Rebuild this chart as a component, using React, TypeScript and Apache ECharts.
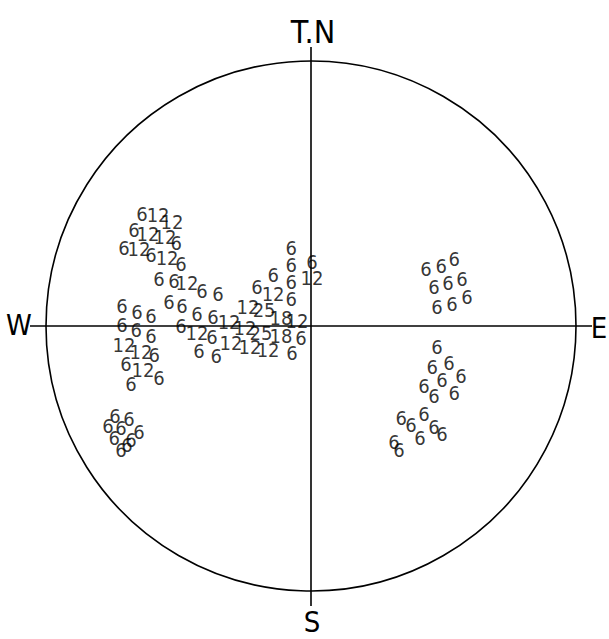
import React, { useEffect, useRef } from "react";
import * as echarts from "echarts";

// Pole counts on the net: [x, y, count], net radius = 100 (x to East, y to True North)
const upperLeftPoles: number[][] = [
  [-63.8, 42.3, 6], [-57.7, 41.9, 12], [-52.5, 39.2, 12],
  [-66.8, 36.2, 6], [-61.5, 34.7, 12], [-55.1, 33.6, 12], [-50.9, 31.3, 6],
  [-70.6, 29.4, 6], [-64.9, 29.1, 12], [-60.4, 26.8, 6], [-54.3, 25.7, 12], [-49.1, 23.4, 6],
  [-57.4, 17.7, 6], [-51.7, 17.0, 6], [-46.8, 16.2, 12], [-41.1, 13.2, 6], [-35.1, 12.1, 6],
];

const centralPoles: number[][] = [
  [-53.6, 9.1, 6], [-48.7, 7.5, 6], [-43.0, 4.5, 6], [-37.0, 3.4, 6],
  [-23.8, 7.2, 12], [-17.7, 6.0, 25], [-11.3, 3.0, 18], [-5.3, 1.9, 12],
  [-49.1, 0.0, 6], [-43.0, -2.6, 12], [-37.4, -4.2, 6],
  [-30.9, 1.5, 12], [-24.9, -0.8, 12], [-18.9, -2.6, 25], [-11.3, -3.8, 18], [-3.8, -4.5, 6],
  [-30.2, -6.4, 12], [-23.0, -7.9, 12], [-16.2, -9.1, 12], [-7.2, -10.2, 6],
  [-42.3, -9.4, 6], [-35.8, -11.3, 6],
];

const upperCentralPoles: number[][] = [
  [-7.5, 29.4, 6], [-7.5, 23.0, 6], [0.4, 24.2, 6], [0.4, 18.1, 12],
  [-14.3, 19.2, 6], [-7.5, 16.6, 6], [-20.4, 14.7, 6], [-14.3, 12.1, 12], [-7.5, 10.2, 6],
];

const westPoles: number[][] = [
  [-71.3, 7.5, 6], [-65.7, 5.3, 6], [-60.4, 3.8, 6],
  [-71.3, 0.4, 6], [-66.0, -1.5, 6], [-60.4, -3.8, 6],
  [-70.6, -7.2, 12], [-64.2, -9.8, 12], [-59.2, -10.9, 6],
  [-69.8, -14.3, 6], [-63.4, -16.6, 12], [-57.4, -19.6, 6], [-67.9, -21.9, 6],
];

const eastUpperPoles: number[][] = [
  [43.4, 21.5, 6], [49.1, 22.6, 6], [54.0, 25.3, 6],
  [46.4, 14.7, 6], [51.7, 16.2, 6], [57.0, 17.7, 6],
  [47.5, 7.2, 6], [53.2, 8.3, 6], [58.9, 10.9, 6],
];

const eastLowerPoles: number[][] = [
  [47.5, -7.9, 6], [45.7, -15.5, 6], [52.1, -14.0, 6],
  [56.6, -18.9, 6], [49.4, -20.4, 6], [42.6, -22.6, 6],
  [46.4, -26.4, 6], [54.0, -25.3, 6],
  [42.6, -33.2, 6], [34.0, -34.7, 6], [37.7, -37.4, 6], [46.4, -38.1, 6],
  [41.1, -42.3, 6], [49.4, -40.8, 6], [31.3, -43.8, 6], [33.2, -46.8, 6],
];

const southWestPoles: number[][] = [
  [-74.0, -34.0, 6], [-68.7, -35.1, 6], [-76.6, -37.7, 6], [-71.7, -38.5, 6],
  [-64.9, -40.0, 6], [-74.3, -42.3, 6], [-67.9, -43.0, 6], [-69.4, -44.9, 6], [-71.7, -46.8, 6],
];

const directionLabels = ["T.N", "E", "S", "W"];

const W = 609;
const H = 639;
const GRID_LEFT = 46;
const GRID_TOP = 61;
const GRID_SIZE = 530;
const NUM_FONT = "'DejaVu Sans Condensed', 'Liberation Sans Narrow', sans-serif";

export default function App() {
  const ref = useRef<HTMLDivElement>(null);
  useEffect(() => {
    if (!ref.current) return;
    const chart = echarts.init(ref.current, undefined, { renderer: "svg" });
    const cx = GRID_LEFT + GRID_SIZE / 2;
    const cy = GRID_TOP + GRID_SIZE / 2;
    const r = GRID_SIZE / 2;
    const allPoles = [
      ...upperLeftPoles,
      ...centralPoles,
      ...upperCentralPoles,
      ...westPoles,
      ...eastUpperPoles,
      ...eastLowerPoles,
      ...southWestPoles,
    ];
    const lineStyle = { stroke: "#000", lineWidth: 1.6 };
    const dirStyle = (text: string, size: number) => ({
      text,
      fill: "#000",
      font: `${size}px ${NUM_FONT}`,
      textAlign: "center",
      textVerticalAlign: "middle",
    });
    chart.setOption({
      animation: false,
      backgroundColor: "#fff",
      grid: { left: GRID_LEFT, top: GRID_TOP, width: GRID_SIZE, height: GRID_SIZE },
      xAxis: { type: "value", min: -100, max: 100, show: false },
      yAxis: { type: "value", min: -100, max: 100, show: false },
      graphic: [
        { type: "circle", shape: { cx, cy, r }, style: { fill: "none", stroke: "#000", lineWidth: 1.6 }, z: 1 },
        { type: "line", shape: { x1: 30, y1: cy, x2: 592, y2: cy }, style: lineStyle, z: 1 },
        { type: "line", shape: { x1: cx, y1: 47, x2: cx, y2: 606 }, style: lineStyle, z: 1 },
        { type: "text", x: cx + 2, y: 32, style: dirStyle(directionLabels[0], 32), z: 2 },
        { type: "text", x: 599, y: cy + 2, style: dirStyle(directionLabels[1], 29), z: 2 },
        { type: "text", x: cx + 1, y: 622, style: dirStyle(directionLabels[2], 29), z: 2 },
        { type: "text", x: 19, y: cy - 1, style: dirStyle(directionLabels[3], 29), z: 2 },
      ],
      series: [
        {
          type: "scatter",
          data: allPoles,
          symbolSize: 1,
          itemStyle: { color: "rgba(0,0,0,0)" },
          label: {
            show: true,
            position: "inside",
            formatter: (p: any) => String(p.value[2]),
            color: "#000",
            fontSize: 20,
            fontFamily: NUM_FONT,
          },
          z: 3,
        },
      ],
    });
    return () => chart.dispose();
  }, []);
  return <div ref={ref} style={{ position: "fixed", left: 0, top: 0, width: W, height: H }} />;
}
